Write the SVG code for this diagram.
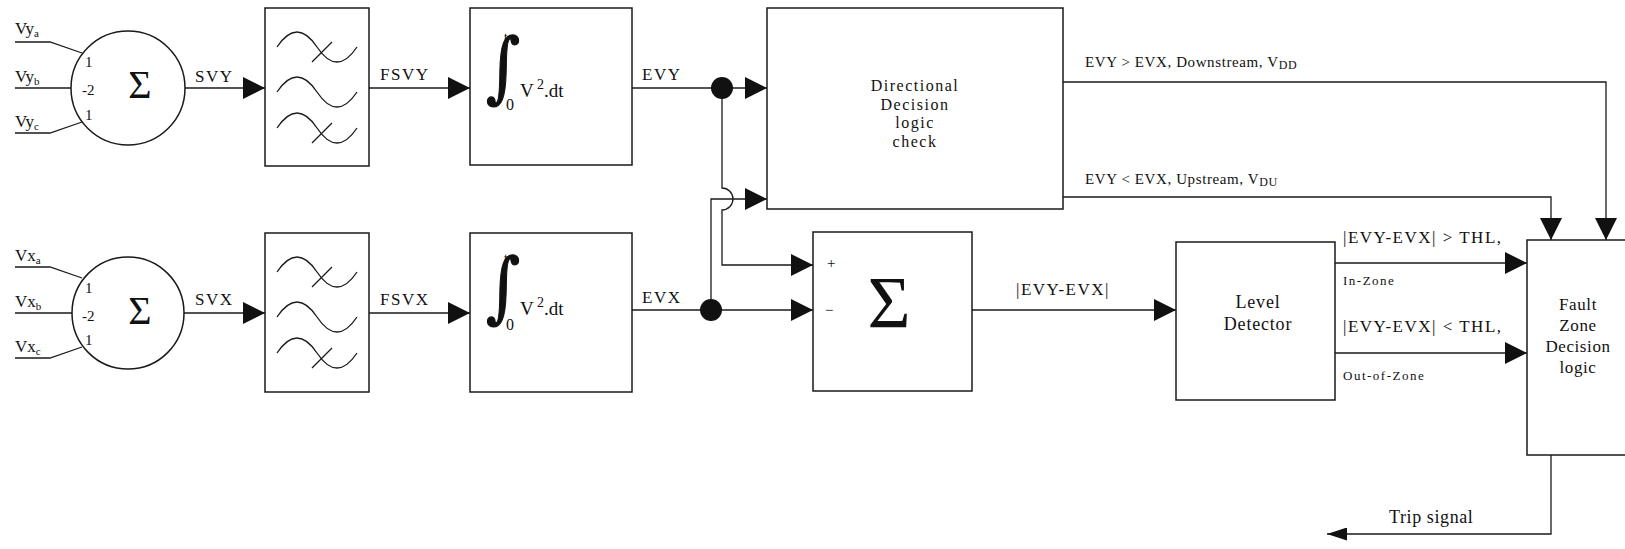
<svg xmlns="http://www.w3.org/2000/svg" width="1625" height="549" viewBox="0 0 1625 549">
<style>
.ln{fill:none;stroke:#1a1a1a;stroke-width:1.3}
.bx{fill:#fff;stroke:#1a1a1a;stroke-width:1.5}
.wv{fill:none;stroke:#1a1a1a;stroke-width:1.3}
.t{font-family:"Liberation Serif","Times New Roman",serif;fill:#111}
.ig{font-family:"DejaVu Serif",serif;fill:#111;stroke:#111;stroke-width:0.7}
.lb{font-size:17px;letter-spacing:1.5px}
.sm{font-size:15px}
</style>
<defs>
<marker id="arr" markerUnits="userSpaceOnUse" markerWidth="22" markerHeight="22" refX="22" refY="11" orient="auto">
<path d="M0,0 L22,11 L0,22 z" fill="#111"/>
</marker>
<marker id="arrs" markerUnits="userSpaceOnUse" markerWidth="20" markerHeight="13" refX="20" refY="6.5" orient="auto">
<path d="M0,0 L20,6.5 L0,13 z" fill="#111"/>
</marker>
<g id="waves">
<path class="wv" d="M277,47 Q297,17 317,47 T357,47"/>
<path class="wv" d="M312,62 L332,42"/>
<path class="wv" d="M277,92 Q297,62 317,92 T357,92"/>
<path class="wv" d="M277,128 Q297,98 317,128 T357,128"/>
<path class="wv" d="M312,143 L332,123"/>
</g>
</defs>

<g id="connectors">
<path class="ln" d="M15,42 H50 L82,53"/>
<path class="ln" d="M15,88 H71"/>
<path class="ln" d="M15,133 H50 L82,122"/>
<path class="ln" d="M15,267 H50 L82,278"/>
<path class="ln" d="M15,313 H72"/>
<path class="ln" d="M15,358 H50 L82,347"/>
<path class="ln" d="M185,88 H265" marker-end="url(#arr)"/>
<path class="ln" d="M369,88 H470" marker-end="url(#arr)"/>
<path class="ln" d="M632,88 H767" marker-end="url(#arr)"/>
<path class="ln" d="M184,313 H265" marker-end="url(#arr)"/>
<path class="ln" d="M369,313 H470" marker-end="url(#arr)"/>
<path class="ln" d="M632,310 H813" marker-end="url(#arr)"/>
<path class="ln" d="M711,310 V199 H767" marker-end="url(#arr)"/>
<path class="ln" d="M722,88 V188 A11,11 0 0 1 722,210 V265 H813" marker-end="url(#arr)"/>
<path class="ln" d="M972,310 H1176" marker-end="url(#arr)"/>
<path class="ln" d="M1063,82 H1606 V240" marker-end="url(#arr)"/>
<path class="ln" d="M1063,197 H1551 V240" marker-end="url(#arr)"/>
<path class="ln" d="M1335,263 H1527" marker-end="url(#arr)"/>
<path class="ln" d="M1335,353 H1527" marker-end="url(#arr)"/>
<path class="ln" d="M1551,455 V534 H1327" marker-end="url(#arrs)"/>
<circle cx="722" cy="88" r="11" fill="#111"/>
<circle cx="711" cy="310" r="11" fill="#111"/>
</g>

<g id="sumY">
<circle cx="128" cy="88" r="57" class="bx"/>
<text class="t" x="15" y="34" font-size="17">Vy<tspan font-size="11" dy="3">a</tspan></text>
<text class="t" x="15" y="82" font-size="17">Vy<tspan font-size="11" dy="3">b</tspan></text>
<text class="t" x="15" y="127" font-size="17">Vy<tspan font-size="11" dy="3">c</tspan></text>
<text class="t sm" x="85" y="67">1</text>
<text class="t sm" x="82" y="95">-2</text>
<text class="t sm" x="85" y="120">1</text>
<text class="t" x="140" y="98" font-size="40" text-anchor="middle">Σ</text>
<text class="t lb" x="195" y="82">SVY</text>
</g>

<g id="sumX">
<circle cx="128" cy="313" r="56" class="bx"/>
<text class="t" x="15" y="261" font-size="17">Vx<tspan font-size="11" dy="3">a</tspan></text>
<text class="t" x="15" y="307" font-size="17">Vx<tspan font-size="11" dy="3">b</tspan></text>
<text class="t" x="15" y="352" font-size="17">Vx<tspan font-size="11" dy="3">c</tspan></text>
<text class="t sm" x="85" y="293">1</text>
<text class="t sm" x="82" y="321">-2</text>
<text class="t sm" x="85" y="345">1</text>
<text class="t" x="140" y="324" font-size="40" text-anchor="middle">Σ</text>
<text class="t lb" x="195" y="305">SVX</text>
</g>

<g id="filterY">
<rect class="bx" x="265" y="8" width="104" height="158"/>
<use href="#waves"/>
<text class="t lb" x="380" y="80" letter-spacing="2">FSVY</text>
</g>

<g id="filterX">
<rect class="bx" x="265" y="233" width="104" height="159"/>
<use href="#waves" transform="translate(0,225)"/>
<text class="t lb" x="380" y="305" letter-spacing="2">FSVX</text>
</g>

<g id="integY">
<rect class="bx" x="470" y="8" width="162" height="157"/>
<text class="ig" transform="translate(486,93) scale(1.5,1.75)" font-size="44">∫</text>
<text class="t" x="504" y="41" font-size="13">t</text>
<text class="t" x="506" y="110" font-size="16">0</text>
<text class="t" x="520" y="97" font-size="19">V</text>
<text class="t" x="537" y="89" font-size="14">2</text>
<text class="t" x="544" y="97" font-size="19">.dt</text>
<text class="t lb" x="642" y="80">EVY</text>
</g>

<g id="integX">
<rect class="bx" x="470" y="233" width="162" height="159"/>
<text class="ig" transform="translate(486,313) scale(1.5,1.75)" font-size="44">∫</text>
<text class="t" x="504" y="262" font-size="13">t</text>
<text class="t" x="506" y="330" font-size="16">0</text>
<text class="t" x="520" y="315" font-size="19">V</text>
<text class="t" x="537" y="307" font-size="14">2</text>
<text class="t" x="544" y="315" font-size="19">.dt</text>
<text class="t lb" x="642" y="303">EVX</text>
</g>

<g id="directional">
<rect class="bx" x="767" y="8" width="296" height="201"/>
<text class="t" x="915" y="91" font-size="16" text-anchor="middle" letter-spacing="1.5">Directional</text>
<text class="t" x="915" y="110" font-size="16" text-anchor="middle" letter-spacing="1.5">Decision</text>
<text class="t" x="915" y="128" font-size="16" text-anchor="middle" letter-spacing="1.5">logic</text>
<text class="t" x="915" y="147" font-size="16" text-anchor="middle" letter-spacing="1.5">check</text>
<text class="t" x="1085" y="67" font-size="15" letter-spacing="0.6">EVY &gt; EVX, Downstream, V<tspan font-size="12" dy="2">DD</tspan></text>
<text class="t" x="1085" y="184" font-size="15" letter-spacing="0.6">EVY &lt; EVX, Upstream, V<tspan font-size="12" dy="2">DU</tspan></text>
</g>

<g id="sumBox">
<rect class="bx" x="813" y="232" width="159" height="159"/>
<text class="t" x="827" y="268" font-size="15">+</text>
<text class="t" x="825" y="315" font-size="15">−</text>
<text class="t" x="889" y="328" font-size="74" text-anchor="middle">Σ</text>
<text class="t lb" x="1016" y="295">|EVY-EVX|</text>
</g>

<g id="level">
<rect class="bx" x="1176" y="242" width="159" height="158"/>
<text class="t" x="1258" y="308" font-size="18" text-anchor="middle" letter-spacing="0.8">Level</text>
<text class="t" x="1258" y="330" font-size="18" text-anchor="middle" letter-spacing="0.8">Detector</text>
<text class="t lb" x="1343" y="243" letter-spacing="1.8">|EVY-EVX| &gt; THL,</text>
<text class="t" x="1343" y="285" font-size="13" letter-spacing="1.5">In-Zone</text>
<text class="t lb" x="1343" y="332" letter-spacing="1.8">|EVY-EVX| &lt; THL,</text>
<text class="t" x="1343" y="380" font-size="13" letter-spacing="1.5">Out-of-Zone</text>
</g>

<g id="fault">
<rect class="bx" x="1527" y="240" width="120" height="215"/>
<text class="t" x="1578" y="310" font-size="17" text-anchor="middle" letter-spacing="0.6">Fault</text>
<text class="t" x="1578" y="331" font-size="17" text-anchor="middle" letter-spacing="0.6">Zone</text>
<text class="t" x="1578" y="352" font-size="17" text-anchor="middle" letter-spacing="0.6">Decision</text>
<text class="t" x="1578" y="373" font-size="17" text-anchor="middle" letter-spacing="0.6">logic</text>
</g>

<g id="trip">
<text class="t" x="1389" y="523" font-size="18" letter-spacing="0.6">Trip signal</text>
</g>
</svg>
